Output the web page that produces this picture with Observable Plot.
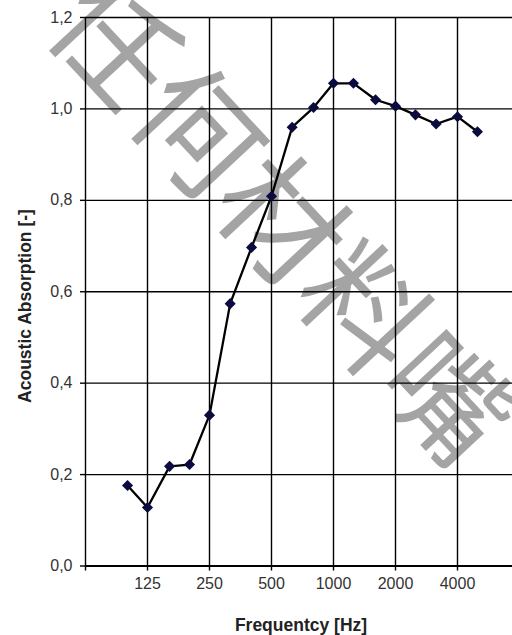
<!DOCTYPE html>
<html><head><meta charset="utf-8">
<script src="https://cdn.jsdelivr.net/npm/d3@7"></script>
<script src="https://cdn.jsdelivr.net/npm/@observablehq/plot@0.6"></script>
<style>body{margin:0;background:#fff} svg{display:block}</style>
</head><body><div id="chart"></div>
<script>
const frequencies = [100,125,160,200,250,315,400,500,630,800,1000,1250,1600,2000,2500,3150,4000,5000];
const absorption = [0.176,0.128,0.218,0.222,0.33,0.574,0.697,0.809,0.96,1.003,1.056,1.056,1.02,1.006,0.987,0.967,0.983,0.95];
const xTicks = [125,250,500,1000,2000,4000];
const xGrid = [62.5,125,250,500,1000,2000,4000,8000];
const yTicks = [0,0.2,0.4,0.6,0.8,1.0,1.2];
const xTitle = "Frequentcy [Hz]";
const yTitle = "Acoustic Absorption [-]";
const watermark = "任何材料嘴";

const data = frequencies.map((f, i) => ({f, a: absorption[i]}));
const fmt = d => d3.format(".1f")(d).replace(".", ",");

const plot = Plot.plot({
  width: 512, height: 635,
  marginTop: 17, marginBottom: 69.5, marginLeft: 85, marginRight: 0,
  style: {fontFamily: "'Liberation Sans', Arial, sans-serif", fontSize: "16px", color: "#333", background: "#fff", overflow: "hidden"},
  x: {type: "log", base: 2, domain: [62.5, 8000], range: [85, 519]},
  y: {domain: [0, 1.2]},
  marks: [
    Plot.gridX(xGrid, {stroke: "#000", strokeOpacity: 1, strokeWidth: 1.4}),
    Plot.gridY(yTicks, {stroke: "#000", strokeOpacity: 1, strokeWidth: 1.4}),
    Plot.ruleY([0], {stroke: "#000", strokeWidth: 2}),
    Plot.axisX([62.5, ...xTicks], {tickSize: 5, tickPadding: 7, tickFormat: d => xTicks.includes(d) ? String(d) : "", label: null, stroke: "#000", strokeWidth: 1.4}),
    Plot.axisY(yTicks, {tickSize: 5, tickPadding: 8, tickFormat: fmt, label: null, stroke: "#000", strokeWidth: 1.4}),
    Plot.line(data, {x: "f", y: "a", stroke: "#000", strokeWidth: 2.3}),
    Plot.dot(data, {x: "f", y: "a", symbol: "diamond2", r: 5, fill: "#0b0b40", stroke: "none"})
  ]
});

const svg = d3.select(plot);
// watermark behind everything
const wm = svg.insert("g", ":first-child")
  .attr("transform", "translate(288,214) rotate(47)");
wm.append("text")
  .attr("text-anchor", "middle")
  .attr("dominant-baseline", "central")
  .attr("font-family", "'Noto Sans CJK SC', sans-serif")
  .attr("font-size", 122)
  .attr("fill", "#a4a4a4")
  .text(watermark);

svg.append("text")
  .attr("transform", "translate(31,306) rotate(-90)")
  .attr("text-anchor", "middle")
  .attr("font-family", "'Liberation Sans', Arial, sans-serif")
  .attr("font-weight", "bold")
  .attr("font-size", 17.5)
  .attr("fill", "#222")
  .text(yTitle);

svg.append("text")
  .attr("x", 301).attr("y", 631)
  .attr("text-anchor", "middle")
  .attr("font-family", "'Liberation Sans', Arial, sans-serif")
  .attr("font-weight", "bold")
  .attr("font-size", 17.5)
  .attr("fill", "#222")
  .text(xTitle);

document.getElementById("chart").appendChild(plot);
</script>
</body></html>
